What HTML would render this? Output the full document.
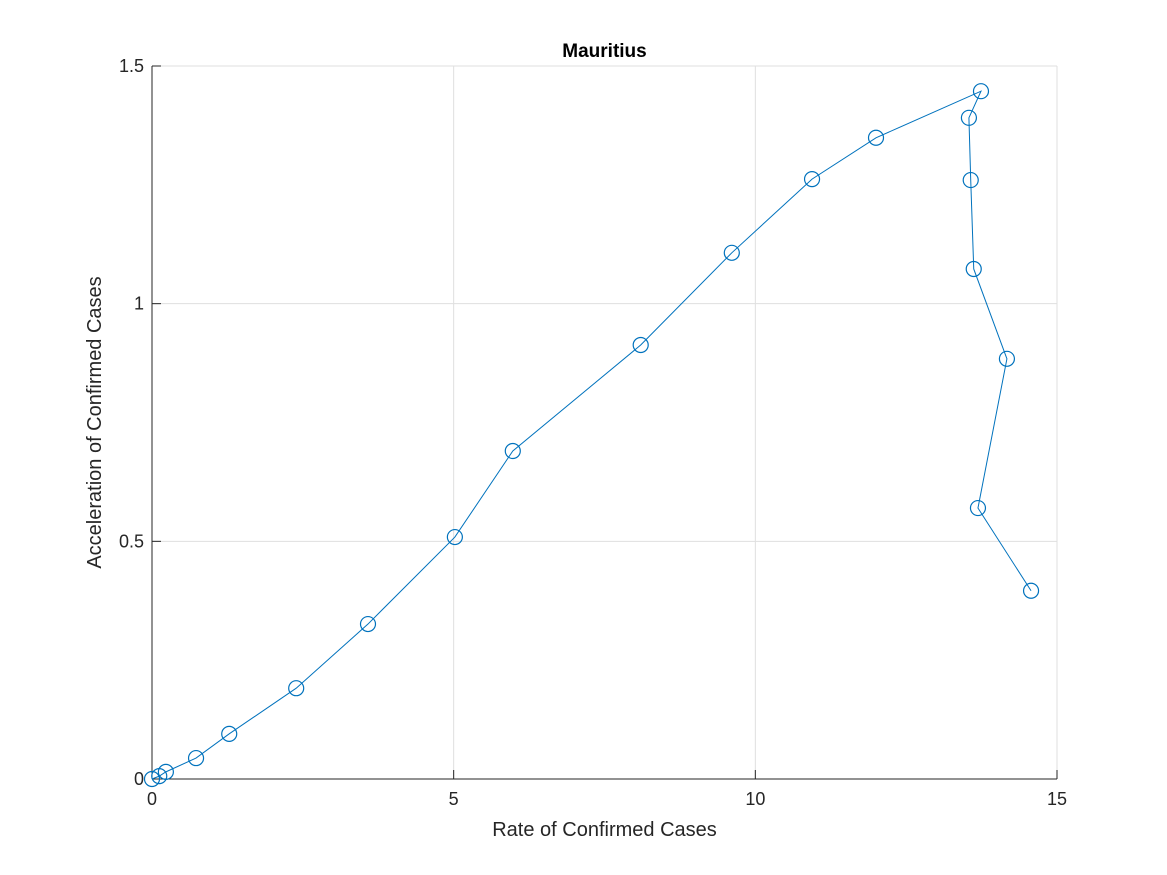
<!DOCTYPE html>
<html><head><meta charset="utf-8"><style>
body{margin:0;background:#fff;}
svg{display:block;font-family:"Liberation Sans",sans-serif;}
</style></head><body>
<svg id="chart" width="1167" height="875" viewBox="0 0 1167 875"></svg>
<script>
const xVals=[0,0.12,0.23,0.73,1.28,2.39,3.58,5.02,5.98,8.10,9.61,10.94,12.0,13.74,13.54,13.57,13.62,14.17,13.69,14.57];
const yVals=[0,0.006,0.015,0.044,0.095,0.191,0.326,0.509,0.690,0.913,1.107,1.262,1.349,1.447,1.391,1.260,1.073,0.884,0.570,0.396];
const xTicks=[0,5,10,15];
const yTicks=[0,0.5,1,1.5];
const xTickLabels=["0","5","10","15"];
const yTickLabels=["0","0.5","1","1.5"];
const L=152,R=1057,T=66,B=779;
const sx=v=>L+(v-0)/15*(R-L);
const sy=v=>B-(v-0)/1.5*(B-T);
const svg=document.getElementById('chart');
const NS='http://www.w3.org/2000/svg';
function mk(tag,attrs,parent){const e=document.createElementNS(NS,tag);for(const k in attrs)e.setAttribute(k,attrs[k]);(parent||svg).appendChild(e);return e;}
const grid=mk('g',{});


xTicks.forEach(t=>{const l=mk('line',{x1:sx(t),x2:sx(t),y1:T,y2:B,stroke:'#dfdfdf','stroke-width':1},grid);

});
yTicks.forEach(t=>{const l=mk('line',{x1:L,x2:R,y1:sy(t),y2:sy(t),stroke:'#dfdfdf','stroke-width':1},grid);

});
const xa=mk('line',{x1:L,x2:R,y1:B,y2:B,stroke:'#262626','stroke-width':1});


const ya=mk('line',{x1:L,x2:L,y1:T,y2:B,stroke:'#262626','stroke-width':1});


xTicks.forEach((t,i)=>{
mk('line',{x1:sx(t),x2:sx(t),y1:B,y2:B-9,stroke:'#262626'});
const tx=mk('text',{x:sx(t),y:B+26,'text-anchor':'middle','font-size':18,fill:'#262626'});tx.textContent=xTickLabels[i];

});
yTicks.forEach((t,i)=>{
mk('line',{x1:L,x2:L+9,y1:sy(t),y2:sy(t),stroke:'#262626'});
const tx=mk('text',{x:L-8,y:sy(t)+6,'text-anchor':'end','font-size':18,fill:'#262626'});tx.textContent=yTickLabels[i];

});
const pts=xVals.map((x,i)=>sx(x)+','+sy(yVals[i])).join(' ');
const line=mk('polyline',{points:pts,fill:'none',stroke:'#0072bd','stroke-width':1});


xVals.forEach((x,i)=>{const c=mk('circle',{cx:sx(x),cy:sy(yVals[i]),r:7.5,fill:'none',stroke:'#0072bd','stroke-width':1.2});

});
const title=mk('text',{x:(L+R)/2,y:57,'text-anchor':'middle','font-size':19,'font-weight':'bold',fill:'#000'});title.textContent='Mauritius';


const xl=mk('text',{x:(L+R)/2,y:836,'text-anchor':'middle','font-size':20,fill:'#262626'});xl.textContent='Rate of Confirmed Cases';


const yl=mk('text',{x:0,y:0,'text-anchor':'middle','font-size':20,fill:'#262626',transform:'translate(101,'+((T+B)/2)+') rotate(-90)'});yl.textContent='Acceleration of Confirmed Cases';


</script>
</body></html>
